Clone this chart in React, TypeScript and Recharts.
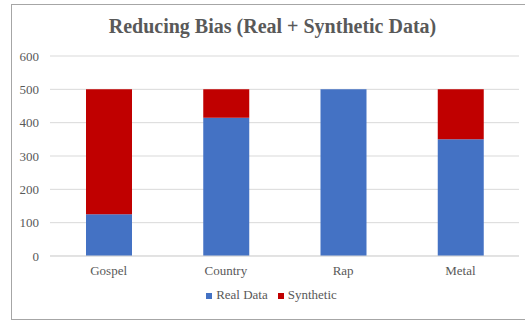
import React from 'react';
import { BarChart, Bar, XAxis, YAxis, CartesianGrid, Legend } from 'recharts';

const genres = ['Gospel', 'Country', 'Rap', 'Metal'];
const realData = [125, 415, 500, 350];
const syntheticData = [375, 85, 0, 150];
const yTicks = [0, 100, 200, 300, 400, 500, 600];

const SERIF = '"Liberation Serif", "Times New Roman", serif';
const TEXT_GREY = '#595959';

const data = genres.map((genre, i) => ({
  genre,
  real: realData[i],
  synthetic: syntheticData[i],
}));

// force the serif face on every svg/legend text node
const fontCss = `
  .chart-box, .chart-box text, .chart-box tspan, .chart-box span, .chart-box li {
    font-family: ${SERIF} !important;
  }
`;

export default function App() {
  return (
    <div
      className="chart-box"
      style={{
        position: 'absolute',
        left: 0,
        top: 0,
        width: 525,
        height: 320,
        overflow: 'hidden',
        background: '#fff',
        fontFamily: SERIF,
      }}
    >
      <style>{fontCss}</style>
      {/* chart frame, open on the right side */}
      <div
        style={{
          position: 'absolute',
          left: 11,
          top: 4,
          width: 540,
          height: 314,
          border: '1px solid #a6a6a6',
        }}
      />
      <div
        style={{
          position: 'absolute',
          left: 10,
          width: 525,
          top: 15,
          textAlign: 'center',
          fontSize: 20,
          fontWeight: 'bold',
          color: TEXT_GREY,
        }}
      >
        Reducing Bias (Real + Synthetic Data)
      </div>
      <BarChart
        width={525}
        height={320}
        data={data}
        margin={{ top: 56, right: 6, left: 0, bottom: 34 }}
        style={{ position: 'absolute', left: 0, top: 0 }}
      >
        <CartesianGrid vertical={false} stroke="#d9d9d9" />
        <XAxis
          dataKey="genre"
          height={30}
          tickLine={false}
          axisLine={{ stroke: '#d9d9d9' }}
          tickMargin={4}
          tick={{ fill: TEXT_GREY, fontSize: 13 }}
        />
        <YAxis
          width={50}
          domain={[0, 600]}
          ticks={yTicks}
          tickLine={false}
          axisLine={false}
          tickMargin={5}
          tick={{ fill: TEXT_GREY, fontSize: 13 }}
        />
        <Legend
          verticalAlign="middle"
          iconType="square"
          iconSize={6}
          wrapperStyle={{
            position: 'absolute',
            left: 14,
            width: 525,
            top: 287,
            fontSize: 13,
          }}
          formatter={(value) => <span style={{ color: TEXT_GREY }}>{value}</span>}
        />
        <Bar dataKey="real" name="Real Data" stackId="a" fill="#4472C4" barSize={46} isAnimationActive={false} />
        <Bar dataKey="synthetic" name="Synthetic" stackId="a" fill="#C00000" barSize={46} isAnimationActive={false} />
      </BarChart>
    </div>
  );
}
